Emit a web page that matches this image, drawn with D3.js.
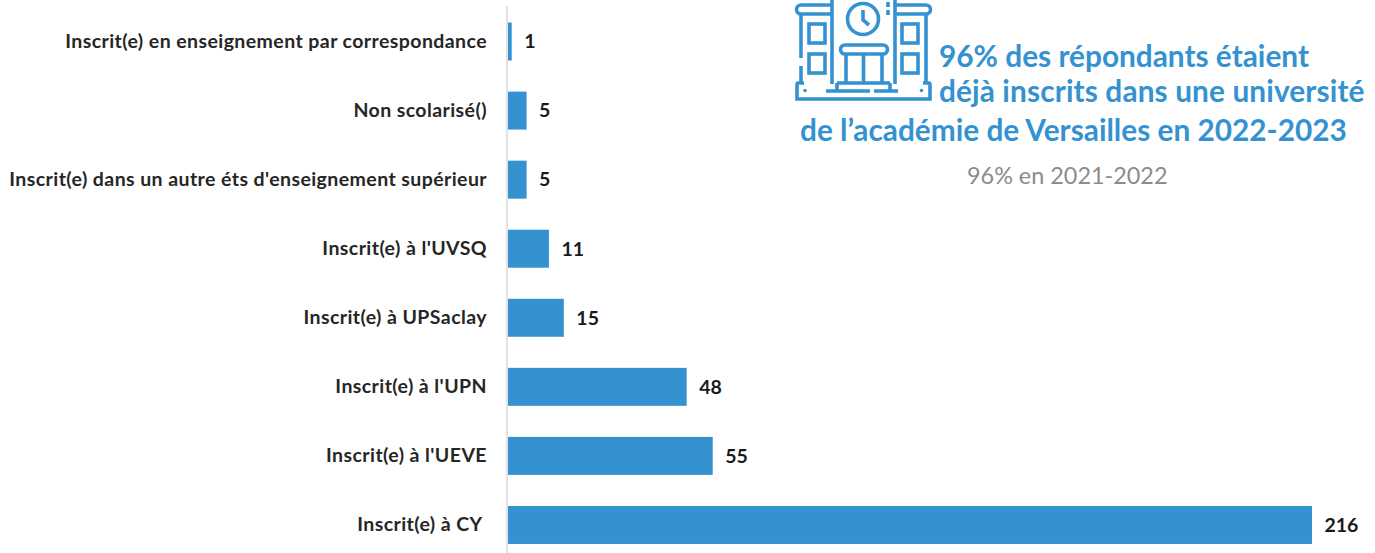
<!DOCTYPE html>
<html><head><meta charset="utf-8">
<style>html,body{margin:0;padding:0;background:#fff;overflow:hidden}svg{display:block}text{white-space:pre}</style>
<script src="https://cdn.jsdelivr.net/npm/d3@7/dist/d3.min.js"></script></head>
<body><svg id="c" width="1375" height="553"></svg>
<script>
const categories = ["Inscrit(e) en enseignement par correspondance","Non scolarisé()","Inscrit(e) dans un autre éts d'enseignement supérieur","Inscrit(e) à l'UVSQ","Inscrit(e) à UPSaclay","Inscrit(e) à l'UPN","Inscrit(e) à l'UEVE","Inscrit(e) à CY "];
const values = [1,5,5,11,15,48,55,216];
const headlineLines = ["96% des répondants étaient","déjà inscrits dans une université","de l’académie de Versailles en 2022-2023"];
const subline = "96% en 2021-2022";
const BLUE = "#3592d1", FONT = "Lato, 'Open Sans', sans-serif";

const svg = d3.select("#c");
const x = d3.scaleLinear().domain([0,216]).range([508,1312]);
const y = d3.scaleBand().domain(categories).range([7,559.5]).paddingInner(0.45).paddingOuter(0.225);

svg.append("line").attr("x1",507).attr("x2",507).attr("y1",6).attr("y2",553).attr("stroke","#d9d9d9").attr("stroke-width",1.5);

svg.selectAll("rect.bar").data(values).join("rect").attr("class","bar")
  .attr("x",x(0)).attr("y",(d,i)=>y(categories[i]))
  .attr("width",d=>x(d)-x(0)).attr("height",y.bandwidth()).attr("fill",BLUE);

svg.selectAll("text.cat").data(categories).join("text").attr("class","cat")
  .attr("x",487).attr("y",d=>y(d)+y.bandwidth()/2).attr("dy","0.33em")
  .attr("text-anchor","end").attr("font-family",FONT).attr("font-weight",700)
  .attr("font-size",19.5).attr("letter-spacing",0.42).attr("fill","#262626").text(d=>d);

svg.selectAll("text.val").data(values).join("text").attr("class","val")
  .attr("x",d=>x(d)+12.5).attr("y",(d,i)=>y(categories[i])+y.bandwidth()/2).attr("dy","0.35em")
  .attr("font-family",FONT).attr("font-weight",700).attr("font-size",19.5).attr("fill","#1a1a1a").text(d=>d);

const hl = [[939,67],[939,102],[800,141]];
svg.selectAll("text.hl").data(headlineLines).join("text").attr("class","hl")
  .attr("x",(d,i)=>hl[i][0]).attr("y",(d,i)=>hl[i][1])
  .attr("font-family",FONT).attr("font-weight",700).attr("font-size",29.8)
  .attr("letter-spacing",(d,i)=>i===1?0.12:0).attr("fill",BLUE).text(d=>d);
svg.append("text").attr("x",967).attr("y",184).attr("font-family",FONT).attr("font-size",23.4).attr("fill","#8c8c8c").text(subline);

// Building icon
const ic = svg.append("g").attr("fill","none").attr("stroke",BLUE).attr("stroke-width",3.6).attr("stroke-linecap","butt");
const p = d => ic.append("path").attr("d",d);
p("M832 0V84M895 0V84");
p("M832 5H801a4.5 4.5 0 0 0 0 9H832M895 5H926a4.5 4.5 0 0 1 0 9H895");
p("M801 14V58M801 66V84M926 14V84");
[[809,24],[809,54],[902,24],[902,54]].forEach(([a,b])=>ic.append("rect").attr("x",a).attr("y",b).attr("width",16).attr("height",19));
ic.append("circle").attr("cx",863).attr("cy",19).attr("r",15.5);
p("M863 10V20L869 25");
p("M888 2V7M888 10V15");
p("M845 45H883a4 4 0 0 1 0 9H845a4 4 0 0 1 0 -9Z");
p("M846 54V82M863.5 54V82M882 54V82");
p("M837 83H890M804 83H798Q797 83 797 85V99H930V85Q930 83 929 83H923M826 91H870M874 91H898");
p("M837 83V91M890 83V91");
ic.append("g").attr("fill",BLUE).attr("stroke","none").selectAll("circle").data([[805,90.5],[921.5,90.5]]).join("circle").attr("cx",d=>d[0]).attr("cy",d=>d[1]).attr("r",1.8);
</script></body></html>
